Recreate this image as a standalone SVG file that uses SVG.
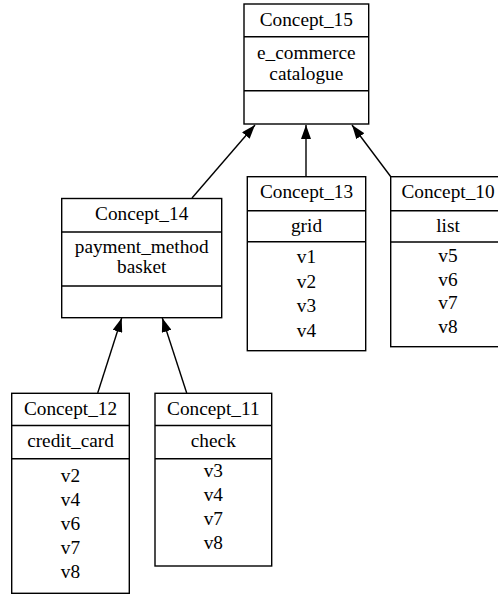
<svg xmlns="http://www.w3.org/2000/svg" width="498" height="594" viewBox="0 0 498 594">
<style>
  .box { fill: #ffffff; stroke: #000000; stroke-width: 1.4; }
  .div { stroke: #000000; stroke-width: 1.4; }
  text { font-family: 'Liberation Serif', Tinos, 'Times New Roman', Times, 'Nimbus Roman', 'DejaVu Serif', serif; font-size: 19.3px; fill: #000000; text-anchor: middle; }
  .edge { stroke: #000000; stroke-width: 1.4; fill: none; marker-end: url(#arrow); }
</style>
<defs>
  <marker id="arrow" viewBox="0 0 14 10" refX="14" refY="5" markerWidth="14" markerHeight="10" orient="auto" markerUnits="userSpaceOnUse">
    <path d="M0,0 L14,5 L0,10 z" fill="#000000"/>
  </marker>
</defs>
<rect width="498" height="594" fill="#ffffff"/>
<g id="connectors">
  <line class="edge" x1="192" y1="198" x2="255" y2="125"/>
  <line class="edge" x1="306" y1="177" x2="306" y2="125"/>
  <line class="edge" x1="391" y1="177" x2="352" y2="125"/>
  <line class="edge" x1="97.7" y1="393" x2="121.7" y2="318"/>
  <line class="edge" x1="186.7" y1="393" x2="162.3" y2="318"/>
</g>
<g font-family="Liberation Serif, serif">
<g id="Concept_15">
  <rect class="box" x="244" y="4" width="124.7" height="120"/>
  <line class="div" x1="244" y1="36.7" x2="368.7" y2="36.7"/>
  <line class="div" x1="244" y1="90.7" x2="368.7" y2="90.7"/>
  <text x="306.3" y="26">Concept_15</text>
  <text x="306.3" y="59.3">e_commerce</text>
  <text x="306.3" y="80">catalogue</text>
</g>
<g id="Concept_14">
  <rect class="box" x="61.7" y="198.5" width="160" height="119.2"/>
  <line class="div" x1="61.7" y1="232" x2="221.7" y2="232"/>
  <line class="div" x1="61.7" y1="286" x2="221.7" y2="286"/>
  <text x="141.7" y="220">Concept_14</text>
  <text x="141.7" y="252.7">payment_method</text>
  <text x="141.7" y="273.3">basket</text>
</g>
<g id="Concept_13">
  <rect class="box" x="247.3" y="176.7" width="118.4" height="174"/>
  <line class="div" x1="247.3" y1="210.7" x2="365.7" y2="210.7"/>
  <line class="div" x1="247.3" y1="241.7" x2="365.7" y2="241.7"/>
  <text x="306.5" y="198.3">Concept_13</text>
  <text x="306.5" y="231.7">grid</text>
  <text x="306.5" y="263.3">v1</text>
  <text x="306.5" y="287.8">v2</text>
  <text x="306.5" y="312">v3</text>
  <text x="306.5" y="336.5">v4</text>
</g>
<g id="Concept_10">
  <rect class="box" x="390.7" y="176.7" width="114.6" height="170"/>
  <line class="div" x1="390.7" y1="210.7" x2="505.3" y2="210.7"/>
  <line class="div" x1="390.7" y1="242" x2="505.3" y2="242"/>
  <text x="448" y="198.3">Concept_10</text>
  <text x="448" y="231.7">list</text>
  <text x="448" y="261.7">v5</text>
  <text x="448" y="285.5">v6</text>
  <text x="448" y="309">v7</text>
  <text x="448" y="333.3">v8</text>
</g>
<g id="Concept_12">
  <rect class="box" x="11.7" y="393.3" width="117.6" height="200"/>
  <line class="div" x1="11.7" y1="425.5" x2="129.3" y2="425.5"/>
  <line class="div" x1="11.7" y1="458.7" x2="129.3" y2="458.7"/>
  <text x="70.5" y="415">Concept_12</text>
  <text x="70.5" y="446.7">credit_card</text>
  <text x="70.5" y="481.7">v2</text>
  <text x="70.5" y="505.7">v4</text>
  <text x="70.5" y="529.7">v6</text>
  <text x="70.5" y="553.7">v7</text>
  <text x="70.5" y="577.7">v8</text>
</g>
<g id="Concept_11">
  <rect class="box" x="155" y="393.3" width="116.7" height="172.7"/>
  <line class="div" x1="155" y1="425.5" x2="271.7" y2="425.5"/>
  <line class="div" x1="155" y1="458.7" x2="271.7" y2="458.7"/>
  <text x="213.3" y="415">Concept_11</text>
  <text x="213.3" y="446.7">check</text>
  <text x="213.3" y="476.7">v3</text>
  <text x="213.3" y="500.7">v4</text>
  <text x="213.3" y="524.7">v7</text>
  <text x="213.3" y="548.7">v8</text>
</g>
</g>
</svg>
